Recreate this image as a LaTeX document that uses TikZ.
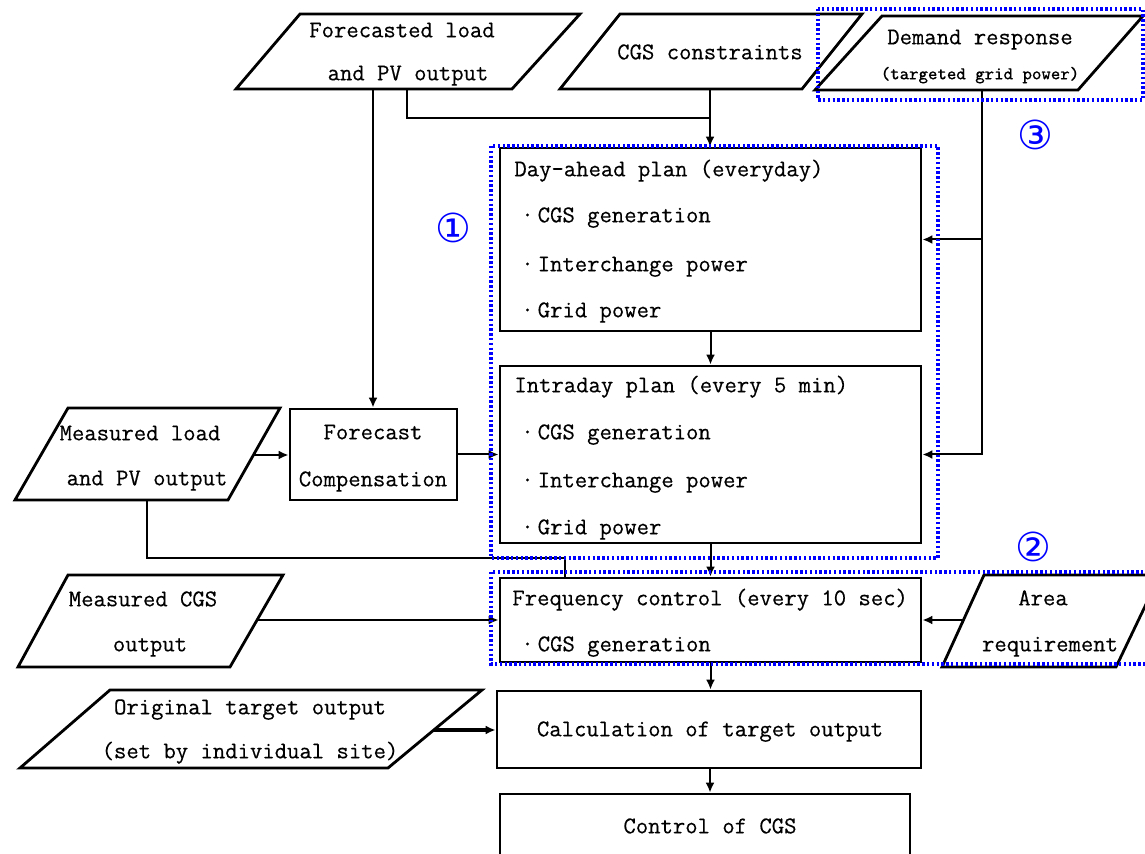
\documentclass[tikz,border=0pt]{standalone}
\usepackage{fontspec}
\setmonofont[FakeBold=0.4]{Latin Modern Mono}
\newfontfamily\circfont{DejaVu Sans}
\usetikzlibrary{arrows.meta,fit}

\begin{document}
\begin{tikzpicture}[x=0.5pt,y=-0.5pt,
  box/.style={draw, line width=1.4pt, inner sep=0pt},
  shapeline/.style={line width=1.4pt, line join=miter},
  conn/.style={line width=1pt},
  arr/.style={conn, -{Latex[length=5pt,width=4.5pt]}},
  dotbox/.style={draw=blue, line width=1.7pt, dash pattern=on 1.2pt off 1.2pt},
  txt/.style={font=\ttfamily\fontsize{12}{14}\selectfont, inner sep=0pt, anchor=mid},
  txtl/.style={txt, anchor=mid west},
  small/.style={font=\ttfamily\fontsize{9}{11}\selectfont, inner sep=0pt, anchor=mid},
  num/.style={font=\circfont\fontsize{20}{20}\selectfont, text=blue, inner sep=0pt}]

\useasboundingbox (0,0) rectangle (1145,854);

% ---- input parallelograms ----
\draw[shapeline] (300,14) -- (580,14) -- (512,89) -- (236,89) -- cycle;
\node[txt] (fl1) at (402,33) {Forecasted load};
\node[txt] (fl2) at (408,76) {and PV output};

\draw[shapeline] (620,14) -- (862,14) -- (802,89) -- (560,89) -- cycle;
\node[txt] (cgs) at (710,55) {CGS constraints};

\draw[shapeline] (882,16) -- (1143,16) -- (1078,90) -- (815,90) -- cycle;
\node[txt] (dr1) at (980,40) {Demand response};
\node[small] (dr2) at (980,75) {(targeted grid power)};

\draw[shapeline] (68,408) -- (280,408) -- (228,500) -- (15,500) -- cycle;
\node[txt] (ml1) at (140,436) {Measured load};
\node[txt] (ml2) at (147,481) {and PV output};

\draw[shapeline] (68,575) -- (283,575) -- (230,667) -- (18,667) -- cycle;
\node[txt] (mc1) at (143,602) {Measured CGS};
\node[txt] (mc2) at (150,647) {output};

\draw[shapeline] (984,575) -- (1160,575) -- (1116,667) -- (942,667) -- cycle;
\node[txt] (ar1) at (1043,601) {Area};
\node[txt] (ar2) at (1050,647) {requirement};

\draw[shapeline] (110,690) -- (482,690) -- (388,768) -- (20,768) -- cycle;
\node[txt] (ot1) at (250,710) {Original target output};
\node[txt] (ot2) at (250,754) {(set by individual site)};

% ---- process boxes ----
\node[box, fit={(500,148) (921,331)}] (day) {};
\node[txtl] (dayt) at (514,172) {Day-ahead plan (everyday)};
\node[txtl] (day1) at (521,218) {\textperiodcentered\,CGS generation};
\node[txtl] (day2) at (521,267) {\textperiodcentered\,Interchange power};
\node[txtl] (day3) at (521,313) {\textperiodcentered\,Grid power};

\node[box, fit={(500,366) (921,543)}] (intra) {};
\node[txtl] (intt) at (514,388) {Intraday plan (every 5 min)};
\node[txtl] (int1) at (521,435) {\textperiodcentered\,CGS generation};
\node[txtl] (int2) at (521,483) {\textperiodcentered\,Interchange power};
\node[txtl] (int3) at (521,530) {\textperiodcentered\,Grid power};

\node[box, fit={(290,409) (457,500)}] (fc) {};
\node[txt] (fc1) at (373,435) {Forecast};
\node[txt] (fc2) at (373,482) {Compensation};

\node[box, fit={(500,578) (921,662)}] (freq) {};
\node[txtl] (freqt) at (512,601) {Frequency control (every 10 sec)};
\node[txtl] (freq1) at (521,647) {\textperiodcentered\,CGS generation};

\node[box, fit={(497,691) (921,768)}] (calc) {};
\node[txt] (calct) at (710,732) {Calculation of target output};

\node[box, fit={(500,794) (910,880)}] (ctrl) {};
\node[txt] (ctrlt) at (710,829) {Control of CGS};

% ---- connection points on the parallelograms ----
\coordinate (flA) at (373,89);
\coordinate (flB) at (407,89);
\coordinate (cgsB) at (710,89);
\coordinate (merge) at (710,118);
\coordinate (drB) at (982,90);
\coordinate (mlR) at (253,455);
\coordinate (mlB) at (147,500);
\coordinate (mlJ) at (565,558);
\coordinate (mcR) at (257,620);
\coordinate (arL) at (963,620);
\coordinate (otR) at (434,730);

% ---- connectors ----
\draw[arr] (flA) -- (flA |- fc.north);
\draw[conn] (flB) |- (merge);
\draw[arr] (cgsB) -- (cgsB |- day.north);
\draw[arr] (drB) |- (intra.east);
\draw[arr] (drB |- day.east) -- (day.east);
\draw[arr] (day.south) -- (intra.north);
\draw[arr] (mlR) -- (mlR -| fc.west);
\draw[arr] (fc.east) -- (fc.east -| intra.west);
\draw[conn] (mlB) |- (mlJ) -- (mlJ |- freq.north);
\draw[arr] (intra.south) -- (freq.north);
\draw[arr] (mcR) -- (mcR -| freq.west);
\draw[arr] (arL) -- (arL -| freq.east);
\draw[arr] (freq.south) -- (freq.south |- calc.north);
\draw[arr, line width=1.6pt] (otR) -- (otR -| calc.west);
\draw[arr] (calc.south -| ctrlt) -- (ctrl.north -| ctrlt);

% ---- dotted groupings ----
\draw[dotbox] (491,146) rectangle (938,558);
\draw[dotbox] (491,572) rectangle (1150,664);
\draw[dotbox] (818,9) rectangle (1143,100);
\node[num] (n1) at (453,228) {①};
\node[num] (n2) at (1033,547) {②};
\node[num] (n3) at (1035,135) {③};
\end{tikzpicture}
\end{document}
